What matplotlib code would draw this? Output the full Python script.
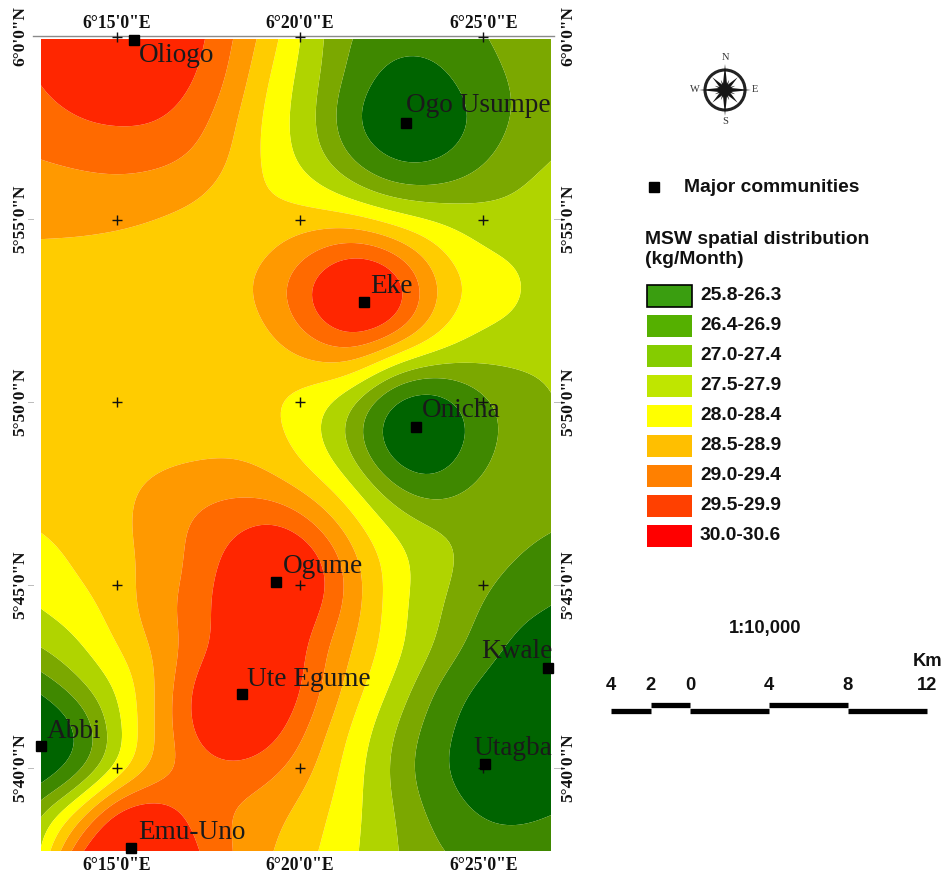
import numpy as np
import matplotlib
matplotlib.use("Agg")
import matplotlib.pyplot as plt
from matplotlib.patches import Rectangle, Polygon, Circle

# ---------------- data ----------------
lon_range = [6.2155, 6.4475]
lat_range = [5.6287, 5.9991]

msw_rows = [
    [30.10, 30.40, 30.60, 30.50, 30.10, 29.40, 28.50, 27.60, 26.85, 26.55, 26.55, 26.85, 27.10, 27.30],
    [30.00, 30.30, 30.50, 30.30, 29.98, 29.25, 28.20, 27.60, 26.70, 26.00, 26.05, 26.65, 27.00, 27.20],
    [29.75, 29.95, 30.02, 30.00, 29.65, 28.95, 28.10, 27.55, 26.20, 25.70, 25.75, 26.30, 27.00, 27.25],
    [29.45, 29.55, 29.60, 29.55, 29.35, 28.85, 28.15, 27.65, 26.90, 26.15, 26.15, 26.75, 27.25, 27.45],
    [29.10, 29.15, 29.20, 29.10, 28.95, 28.60, 28.50, 28.30, 27.90, 27.50, 27.45, 27.45, 27.50, 27.65],
    [28.95, 28.93, 28.85, 28.75, 28.60, 28.60, 28.85, 29.20, 29.60, 29.10, 28.45, 27.95, 27.75, 27.65],
    [28.75, 28.70, 28.65, 28.60, 28.55, 28.85, 29.30, 30.20, 30.90, 30.50, 29.05, 28.30, 28.20, 27.70],
    [28.65, 28.65, 28.60, 28.60, 28.55, 28.65, 29.10, 29.90, 30.60, 30.20, 28.80, 28.10, 27.90, 27.65],
    [28.70, 28.65, 28.60, 28.60, 28.55, 28.55, 28.65, 28.85, 28.95, 27.85, 27.55, 27.46, 27.50, 27.55],
    [28.75, 28.75, 28.70, 28.65, 28.60, 28.55, 28.50, 28.05, 27.35, 26.00, 25.60, 26.65, 27.10, 27.40],
    [28.80, 28.75, 28.75, 28.75, 28.75, 28.80, 28.60, 28.05, 27.25, 25.70, 25.35, 26.60, 27.15, 27.35],
    [28.65, 28.75, 28.85, 29.05, 29.25, 29.30, 29.05, 28.60, 28.00, 27.00, 26.50, 27.10, 27.20, 27.25],
    [28.50, 28.60, 28.85, 29.20, 29.60, 29.85, 30.20, 29.50, 28.60, 27.85, 27.50, 27.30, 27.15, 27.00],
    [28.25, 28.55, 28.80, 29.10, 29.60, 30.30, 30.80, 30.40, 29.10, 28.20, 27.70, 27.30, 26.95, 26.70],
    [28.00, 28.25, 28.70, 29.35, 29.70, 30.50, 30.80, 30.15, 29.15, 28.10, 27.55, 27.05, 26.50, 26.30],
    [27.50, 27.90, 28.50, 29.05, 29.70, 30.30, 30.70, 29.60, 28.90, 28.15, 27.50, 26.85, 26.20, 26.10],
    [26.60, 27.40, 28.00, 29.00, 30.25, 30.80, 30.60, 29.65, 28.65, 27.85, 26.95, 26.25, 25.90, 25.90],
    [25.30, 26.30, 27.95, 29.10, 30.20, 30.70, 30.20, 29.20, 28.30, 27.45, 26.70, 26.00, 25.85, 25.85],
    [25.70, 26.60, 27.90, 29.15, 29.60, 29.80, 29.50, 28.95, 28.10, 27.35, 26.45, 26.00, 25.85, 25.90],
    [27.50, 28.60, 30.50, 30.30, 29.65, 29.40, 29.10, 28.65, 28.05, 27.50, 26.80, 26.30, 26.05, 26.30],
    [28.00, 30.00, 31.00, 30.80, 29.90, 29.40, 28.90, 28.50, 28.00, 27.50, 27.05, 26.70, 26.65, 26.70],
]

class_labels = ["25.8-26.3", "26.4-26.9", "27.0-27.4", "27.5-27.9", "28.0-28.4",
                "28.5-28.9", "29.0-29.4", "29.5-29.9", "30.0-30.6"]
class_levels = [24.0, 26.35, 26.95, 27.45, 27.95, 28.45, 28.95, 29.45, 29.95, 32.0]
map_colors = ["#006400", "#3F8800", "#7BA800", "#B0D400", "#FFFF00",
              "#FFCC00", "#FF9900", "#FF6A00", "#FF2600"]
legend_colors = ["#3A9E10", "#55B000", "#85CC00", "#BFE600", "#FFFF00",
                 "#FFBF00", "#FF8000", "#FF4000", "#FF0000"]

community_names = ["Oliogo", "Ogo Usumpe", "Eke", "Onicha", "Ogume", "Ute Egume",
                   "Abbi", "Utagba", "Kwale", "Emu-Uno"]
community_lon = [6.2577, 6.3817, 6.3626, 6.3862, 6.3226, 6.3068, 6.2155, 6.4175, 6.4461, 6.2564]
community_lat = [5.9986, 5.9609, 5.8790, 5.8221, 5.7516, 5.7002, 5.6765, 5.6683, 5.7120, 5.6301]
# label offset from the marker (px right, px up)
label_dx = [5, 0, 6, 6, 6, 5, 6, -12, -67, 7]
label_dy = [-15, 17, 16, 17, 15, 15, 15, 16, 17, 15]

lon_ticks = [6.25, 6 + 20 / 60, 6 + 25 / 60]
lon_tick_labels = ["6°15'0\"E", "6°20'0\"E", "6°25'0\"E"]
lat_ticks = [6.0, 5 + 55 / 60, 5 + 50 / 60, 5 + 45 / 60, 5 + 40 / 60]
lat_tick_labels = ["6°0'0\"N", "5°55'0\"N", "5°50'0\"N", "5°45'0\"N", "5°40'0\"N"]

scale_values = ["4", "2", "0", "4", "8", "12"]
scale_km = [-4, -2, 0, 4, 8, 12]

# ---------------- helpers ----------------
SERIF = "Liberation Serif"
SANS = "Liberation Sans"
W, H = 945, 876


def upsample_axis(a, factor, axis):
    """Catmull-Rom refinement so class edges are curves rather than polygons."""
    a = np.moveaxis(a, axis, 0)
    n = a.shape[0]
    t = np.linspace(0, n - 1, (n - 1) * factor + 1)
    i = np.minimum(t.astype(int), n - 2)
    u = (t - i).reshape((-1,) + (1,) * (a.ndim - 1))
    p0 = a[np.maximum(i - 1, 0)]
    p1 = a[i]
    p2 = a[i + 1]
    p3 = a[np.minimum(i + 2, n - 1)]
    out = 0.5 * (2 * p1 + (p2 - p0) * u + (2 * p0 - 5 * p1 + 4 * p2 - p3) * u ** 2
                 + (3 * p1 - p0 - 3 * p2 + p3) * u ** 3)
    return np.moveaxis(out, 0, axis)


def soften(a, sigma):
    """Small Gaussian softening, edges mirrored, to remove grid wobble."""
    r = int(3 * sigma)
    k = np.exp(-0.5 * (np.arange(-r, r + 1) / sigma) ** 2)
    k /= k.sum()
    for axis in (0, 1):
        pad = [(r, r) if j == axis else (0, 0) for j in (0, 1)]
        b = np.pad(a, pad, mode="reflect", reflect_type="odd")
        a = np.apply_along_axis(lambda v: np.convolve(v, k, mode="valid"), axis, b)
    return a


# ---------------- figure ----------------
fig = plt.figure(figsize=(W / 100, H / 100), dpi=100, facecolor="white")

# overlay in pixel coordinates for panel furniture
pan = fig.add_axes([0, 0, 1, 1], zorder=1)
pan.set_xlim(0, W)
pan.set_ylim(H, 0)
pan.axis("off")

# map
ax = fig.add_axes([41 / W, 1 - 851 / H, 510 / W, 812 / H], zorder=2)
ax.patch.set_alpha(0)
field = np.array(msw_rows)
F = 10
fine = soften(upsample_axis(upsample_axis(field, F, 0), F, 1), 5.5)
lat_f = np.linspace(lat_range[1], lat_range[0], fine.shape[0])
lon_f = np.linspace(lon_range[0], lon_range[1], fine.shape[1])
ax.contourf(lon_f, lat_f, fine, levels=class_levels, colors=map_colors,
            antialiased=True, extend="both")
ax.set_xlim(lon_range)
ax.set_ylim(lat_range)
ax.axis("off")

# graticule crosses and top line
gx, gy = np.meshgrid(lon_ticks, lat_ticks)
ax.plot(gx.ravel(), gy.ravel(), linestyle="none", marker="+", markersize=7.5,
        markeredgewidth=1.0, color="#111111", clip_on=False, zorder=4)
pan.plot([33, 554], [36, 36], color="#8a8a8a", lw=1.0)
for yy in [219, 402, 585, 768]:
    pan.plot([28, 33], [yy, yy], color="#bbbbbb", lw=0.7)
    pan.plot([554, 560], [yy, yy], color="#bbbbbb", lw=0.7)

# graticule labels
for lon, lab in zip(lon_ticks, lon_tick_labels):
    px = 41 + (lon - lon_range[0]) / (lon_range[1] - lon_range[0]) * 510
    for yy in (23, 866):
        pan.text(px, yy, lab, family=SERIF, weight="bold", fontsize=12.7,
                 ha="center", va="center", color="#111111")
for lat, lab in zip(lat_ticks, lat_tick_labels):
    py = 36 + (6.0 - lat) * 2196
    for xx in (20, 568):
        pan.text(xx, py, lab, family=SERIF, weight="bold", fontsize=12.5, rotation=90,
                 ha="center", va="center", color="#111111")

# communities
ax.plot(community_lon, community_lat, linestyle="none", marker="s", markersize=7,
        color="black", clip_on=False, zorder=5)
for name, lo, la, dx, dy in zip(community_names, community_lon, community_lat, label_dx, label_dy):
    ax.annotate(name, (lo, la), xytext=(dx * 0.72, dy * 0.72), textcoords="offset points",
                family=SERIF, fontsize=19.6, ha="left", va="center", color="#1a1a1a",
                annotation_clip=False, zorder=6)

# compass
cx, cy = 725, 90
ring = Circle((cx, cy), 20, fill=False, edgecolor="#222222", lw=2.2)
pan.add_patch(ring)
for k in range(16):
    ang = np.deg2rad(k * 22.5)
    r = 26 if k % 4 == 0 else (18 if k % 2 == 0 else 11)
    side = ang + np.pi / 2
    w = 2.6 if k % 2 == 0 else 1.6
    tip = (cx + r * np.sin(ang), cy - r * np.cos(ang))
    b1 = (cx + w * np.sin(side), cy - w * np.cos(side))
    b2 = (cx - w * np.sin(side), cy + w * np.cos(side))
    pan.add_patch(Polygon([tip, b1, b2], closed=True, facecolor="#151515", edgecolor="none"))
for lab, xx, yy in [("N", cx, 58), ("S", cx, 121), ("W", 695, 90), ("E", 755, 90)]:
    pan.text(xx, yy, lab, family=SERIF, fontsize=7.5, ha="center", va="center", color="#333333")

# legend
pan.add_patch(Rectangle((648.5, 182), 10, 10, color="black"))
pan.text(684, 187, "Major communities", family=SANS, weight="bold", fontsize=13.9,
         ha="left", va="center", color="#111111")
pan.text(645, 239, "MSW spatial distribution", family=SANS, weight="bold", fontsize=13.9,
         ha="left", va="center", color="#111111")
pan.text(645, 260, "(kg/Month)", family=SANS, weight="bold", fontsize=13.9,
         ha="left", va="center", color="#111111")
for i, (lab, col) in enumerate(zip(class_labels, legend_colors)):
    top = 285 + i * 30
    pan.add_patch(Rectangle((647, top), 45, 22, facecolor=col,
                            edgecolor="black" if i == 0 else "none", lw=1.2))
    pan.text(700, top + 11, lab, family=SANS, weight="bold", fontsize=13.9,
             ha="left", va="center", color="#111111")

# scale
pan.text(765, 628, "1:10,000", family=SANS, weight="bold", fontsize=13.2,
         ha="center", va="center", color="#111111")
pan.text(913, 662, "Km", family=SANS, weight="bold", fontsize=13.2,
         ha="left", va="center", color="#111111")
kx = lambda km: 690 + km * 19.75
for k, (a, b) in enumerate(zip(scale_km[:-1], scale_km[1:])):
    yy = 711 if k % 2 == 0 else 705
    pan.plot([kx(a), kx(b)], [yy, yy], color="black", lw=3.8, solid_capstyle="butt")
for lab, km in zip(scale_values, scale_km):
    pan.text(kx(km), 686, lab, family=SANS, weight="bold", fontsize=13.2,
             ha="center", va="center", color="#111111")

fig.savefig("out.png", dpi=100, facecolor="white")
